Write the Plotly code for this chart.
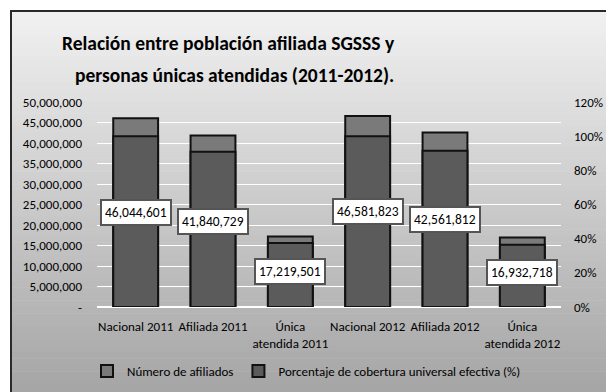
import plotly.graph_objects as go

categories = ["Nacional 2011", "Afiliada 2011", "Única<br>atendida 2011",
              "Nacional 2012", "Afiliada 2012", "Única<br>atendida 2012"]
afiliados = [46044601, 41840729, 17219501, 46581823, 42561812, 16932718]
cobertura = [1.000, 0.909, 0.374, 1.000, 0.914, 0.364]
label_text = ["46,044,601", "41,840,729", "17,219,501", "46,581,823", "42,561,812", "16,932,718"]
left_ticks = [0, 5e6, 10e6, 15e6, 20e6, 25e6, 30e6, 35e6, 40e6, 45e6, 50e6]
left_ticktext = ["-", "5,000,000", "10,000,000", "15,000,000", "20,000,000", "25,000,000",
                 "30,000,000", "35,000,000", "40,000,000", "45,000,000", "50,000,000"]
right_ticks = [0, 0.2, 0.4, 0.6, 0.8, 1.0, 1.2]
title_lines = ["Relación entre población afiliada SGSSS y",
               "personas únicas atendidas (2011-2012)."]

W, H = 606, 392
L, R, T, B = 97, 45, 102, 85
PW, PH = W - L - R, H - T - B

def px(x):
    return (x - L) / PW

def py(y):
    return (H - B - y) / PH

FONT = "Carlito, Lato, sans-serif"

fig = go.Figure()
fig.add_trace(go.Bar(x=categories, y=afiliados, name="Número de afiliados",
                     marker=dict(color="#7a7a7a", line=dict(color="#111111", width=2)),
                     width=0.58, yaxis="y"))
fig.add_trace(go.Bar(x=categories, y=cobertura, name="Porcentaje de cobertura universal efectiva (%)",
                     marker=dict(color="#5b5b5b", line=dict(color="#111111", width=2)),
                     width=0.58, yaxis="y2"))

shapes = []
# gradient background (style only)
n = 60
y0, y1 = 10, H + 5
c_top, c_bot = (241, 241, 241), (164, 164, 164)
for i in range(n):
    a = y0 + (y1 - y0) * i / n
    b = y0 + (y1 - y0) * (i + 1) / n
    t = (i + 0.5) / n
    c = tuple(int(round(c_top[k] + (c_bot[k] - c_top[k]) * t)) for k in range(3))
    shapes.append(dict(type="rect", xref="paper", yref="paper",
                       x0=px(11), x1=px(W + 10), y0=py(b + 0.5), y1=py(a),
                       fillcolor="rgb(%d,%d,%d)" % c, line=dict(width=0), layer="below"))
shapes.append(dict(type="rect", xref="paper", yref="paper",
                   x0=px(11), x1=px(W + 10), y0=py(H + 10), y1=py(11),
                   fillcolor="rgba(0,0,0,0)", line=dict(color="#2a2a2a", width=2), layer="below"))

annotations = []
for c, v, t in zip(categories, afiliados, label_text):
    annotations.append(dict(x=c, y=v / 2, xref="x", yref="y", text=t, showarrow=False,
                            font=dict(family=FONT, size=13.5, color="#000000"),
                            bgcolor="#ffffff", bordercolor="#555555", borderwidth=2, borderpad=3))
for line, (cx, cy) in zip(title_lines, [(228, 43), (234, 75)]):
    annotations.append(dict(x=px(cx), y=py(cy), xref="paper", yref="paper",
                            xanchor="center", yanchor="middle", showarrow=False, text=line,
                            font=dict(family=FONT, size=19.5, color="#000000", weight="bold")))

fig.update_layout(
    width=W, height=H,
    margin=dict(l=L, r=R, t=T, b=B, autoexpand=False),
    paper_bgcolor="#ffffff", plot_bgcolor="rgba(0,0,0,0)",
    barmode="overlay",
    font=dict(family=FONT, size=13, color="#000000"),
    xaxis=dict(showgrid=False, ticks="", showline=False, tickfont=dict(size=13),
               ticklabelstandoff=10, tickangle=0, automargin=False),
    yaxis=dict(range=[0, 50e6], tickvals=left_ticks, ticktext=left_ticktext,
               showgrid=True, gridcolor="#ffffff", gridwidth=1, zeroline=True,
               zerolinecolor="#ffffff", zerolinewidth=1.5, ticks="", ticklabelstandoff=14,
               tickfont=dict(size=13), automargin=False),
    yaxis2=dict(range=[0, 1.2], tickvals=right_ticks, tickformat=".0%", overlaying="y",
                side="right", showgrid=False, zeroline=False, ticks="", ticklabelstandoff=12,
                tickfont=dict(size=13), automargin=False),
    legend=dict(orientation="h", x=87 / W, xanchor="left", y=1 - 356 / H, yanchor="top",
                xref="container", yref="container",
                font=dict(size=13), bgcolor="rgba(0,0,0,0)", itemwidth=30),
    shapes=shapes, annotations=annotations, showlegend=True,
)

fig.write_html("out.html")
